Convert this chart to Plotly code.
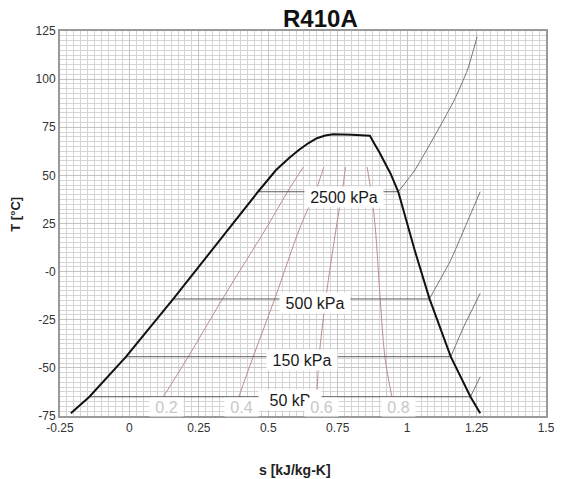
import plotly.graph_objects as go

# ---------------- data ----------------
dome_s = [-0.211, -0.144, -0.012, 0.158, 0.463, 0.495, 0.528, 0.575, 0.610, 0.645, 0.675,
          0.705, 0.734, 0.80, 0.866, 0.880, 0.899, 0.940, 0.968, 1.027, 1.08, 1.157, 1.228, 1.263]
dome_T = [-73.6, -65.0, -44.2, -14.2, 41.5, 47.2, 52.8, 59.0, 63.2, 66.8, 69.3,
          70.7, 71.3, 71.1, 70.6, 67.0, 62.3, 51.0, 41.5, 11.2, -13.9, -44.2, -65.0, -73.6]

p2500_s = [0.463, 0.968, 1.028, 1.111, 1.170, 1.217, 1.252]
p2500_T = [41.5, 41.5, 52.8, 73.6, 89.2, 104.7, 122.0]
p500_s = [0.158, 1.08, 1.157, 1.204, 1.263]
p500_T = [-14.2, -14.2, 6.0, 21.6, 41.5]
p150_s = [-0.012, 1.157, 1.204, 1.263]
p150_T = [-44.2, -44.2, -28.6, -11.3]
p50_s = [-0.144, 1.228, 1.263]
p50_T = [-65.0, -65.0, -54.6]

q_T = [-65.0, -44.4, -14.2, 23.2, 41.4, 54.3]
q02_s = [0.122, 0.211, 0.335, 0.495, 0.569, 0.626]
q04_s = [0.394, 0.445, 0.523, 0.615, 0.669, 0.700]
q06_s = [0.675, 0.683, 0.707, 0.745, 0.766, 0.778]
q08_s = [0.945, 0.920, 0.903, 0.885, 0.870, 0.856]

press_labels = ["2500 kPa", "500 kPa", "150 kPa", "50 kP"]
press_lab_s = [0.774, 0.669, 0.623, 0.577]
press_lab_T = [38.6, -16.5, -45.9, -66.7]
press_lab_w = [78, 70, 70, 62]

qual_labels = ["0.2", "0.4", "0.6", "0.8"]
qual_lab_s = [0.132, 0.404, 0.690, 0.970]
qual_lab_T = [-70.3, -70.3, -70.3, -70.3]

y_tickvals = [-75, -50, -25, 0, 25, 50, 75, 100, 125]
y_ticktext = ["-75", "-50", "-25", "-0", "25", "50", "75", "100", "125"]
x_tickvals = [-0.25, 0, 0.25, 0.5, 0.75, 1, 1.25, 1.5]
x_ticktext = ["-0.25", "0", "0.25", "0.5", "0.75", "1", "1.25", "1.5"]

FONT = "Liberation Sans, Arial, sans-serif"

fig = go.Figure()

qcol = "#bf8c8c"
for qs in [q02_s, q04_s, q06_s, q08_s]:
    fig.add_trace(go.Scatter(x=qs, y=q_T, mode="lines",
                             line=dict(color=qcol, width=1, shape="spline"),
                             hoverinfo="skip"))

for ps, pt in [(p2500_s, p2500_T), (p500_s, p500_T), (p150_s, p150_T), (p50_s, p50_T)]:
    # two-phase (horizontal) part
    fig.add_trace(go.Scatter(x=ps[:2], y=pt[:2], mode="lines",
                             line=dict(color="#5e5e5e", width=1),
                             hoverinfo="skip"))
    # superheated part
    fig.add_trace(go.Scatter(x=ps[1:], y=pt[1:], mode="lines",
                             line=dict(color="#757575", width=1, shape="spline", smoothing=0.5),
                             hoverinfo="skip"))

fig.add_trace(go.Scatter(x=dome_s, y=dome_T, mode="lines",
                         line=dict(color="#111111", width=2),
                         hoverinfo="skip"))

annotations = []
for t, s, T, w in zip(press_labels, press_lab_s, press_lab_T, press_lab_w):
    annotations.append(dict(x=s, y=T, xref="x", yref="y", text=t, showarrow=False,
                            font=dict(family=FONT, size=16, color="#1a1a1a"),
                            bgcolor="white", width=w, height=20, borderpad=0,
                            xanchor="center", yanchor="middle"))
for t, s, T in zip(qual_labels, qual_lab_s, qual_lab_T):
    annotations.append(dict(x=s, y=T, xref="x", yref="y", text=t, showarrow=False,
                            font=dict(family=FONT, size=16, color="#c8c8c8"),
                            bgcolor="white", width=33, height=18, borderpad=0,
                            xanchor="center", yanchor="middle"))

annotations.append(dict(x=0.537, y=1.0325, xref="paper", yref="paper", text="<b>R410A</b>",
                        showarrow=False, font=dict(family=FONT, size=24, color="#111111"),
                        xanchor="center", yanchor="middle"))
annotations.append(dict(x=-0.0909, y=0.525, xref="paper", yref="paper", text="<b>T [°C]</b>",
                        showarrow=False, textangle=-90,
                        font=dict(family=FONT, size=13, color="#222222"),
                        xanchor="center", yanchor="middle"))
annotations.append(dict(x=0.483, y=-0.140, xref="paper", yref="paper", text="<b>s [kJ/kg-K]</b>",
                        showarrow=False, font=dict(family=FONT, size=14, color="#222222"),
                        xanchor="center", yanchor="middle"))

fig.update_layout(
    width=563, height=479,
    margin=dict(l=60, r=8, t=31, b=63),
    paper_bgcolor="white", plot_bgcolor="white",
    showlegend=False,
    annotations=annotations,
    font=dict(family=FONT, size=12, color="#333333"),
)

fig.update_xaxes(range=[-0.25, 1.5], tickmode="array", tickvals=x_tickvals, ticktext=x_ticktext,
                 showgrid=True, gridcolor="#c4c4c4", gridwidth=1,
                 minor=dict(dtick=0.025, tick0=0, showgrid=True, gridcolor="#d4d4d4", gridwidth=1),
                 showline=True, linecolor="#9a9a9a", linewidth=2, mirror=True,
                 zeroline=False, ticks="",
                 tickfont=dict(family=FONT, size=12, color="#333333"))
fig.update_yaxes(range=[-75, 125], tickmode="array", tickvals=y_tickvals, ticktext=y_ticktext,
                 showgrid=True, gridcolor="#c4c4c4", gridwidth=1,
                 minor=dict(dtick=2.5, tick0=0, showgrid=True, gridcolor="#d4d4d4", gridwidth=1),
                 showline=True, linecolor="#9a9a9a", linewidth=2, mirror=True,
                 zeroline=False, ticks="",
                 tickfont=dict(family=FONT, size=12, color="#333333"))

fig.write_html("out.html")
